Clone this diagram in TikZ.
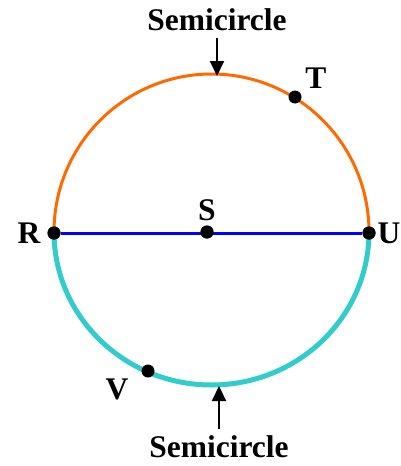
\documentclass[tikz,border=0pt]{standalone}
\usepackage{fontspec}
\setmainfont{Liberation Serif}
\usetikzlibrary{arrows.meta}
\definecolor{arcorange}{HTML}{FF6A00}
\definecolor{arccyan}{HTML}{33CCCC}
\definecolor{diamblue}{HTML}{0000FF}
\tikzset{
  lbl/.style={font=\fontsize{31.5}{31.5}\selectfont\bfseries, inner sep=0pt},
  dot/.style={circle, fill=black, minimum size=13pt, inner sep=0pt},
  pointer/.style={line width=2pt, -{Triangle[width=14pt,length=15pt]}}
}
\begin{document}
\begin{tikzpicture}[x=1pt,y=-1pt]
\useasboundingbox (0,0) rectangle (401,466);
% arcs
\draw[arccyan, line width=5pt] (54,232) arc[start angle=180, end angle=0, x radius=157.5, y radius=153];
\draw[arcorange, line width=3pt] (54,232) arc[start angle=180, end angle=360, x radius=157.5, y radius=158];
% points
\node[dot] (R) at (54,233) {};
\node[dot] (U) at (369,233) {};
\node[dot] (S) at (207,232) {};
\node[dot] (T) at (295,97) {};
\node[dot] (V) at (148,371) {};
\draw[diamblue, line width=3pt] (R) -- (U);
\node[dot] at (R) {};
\node[dot] at (U) {};
\node[dot] at (S) {};
% labels
\node[lbl] (lR) at (29,233) {R};
\node[lbl] (lU) at (389,233) {U};
\node[lbl] (lS) at (207,210) {S};
\node[lbl] (lT) at (316,78) {T};
\node[lbl] (lV) at (117,389) {V};
\node[lbl, anchor=base] (top) at (217,30) {Semicircle};
\node[lbl, anchor=base] (bot) at (219,457) {Semicircle};
\coordinate (topend) at (217,76);
\coordinate (botend) at (219,386);
\draw[pointer] (217,38) -- (topend);
\draw[pointer] (219,429) -- (botend);
\end{tikzpicture}
\end{document}
